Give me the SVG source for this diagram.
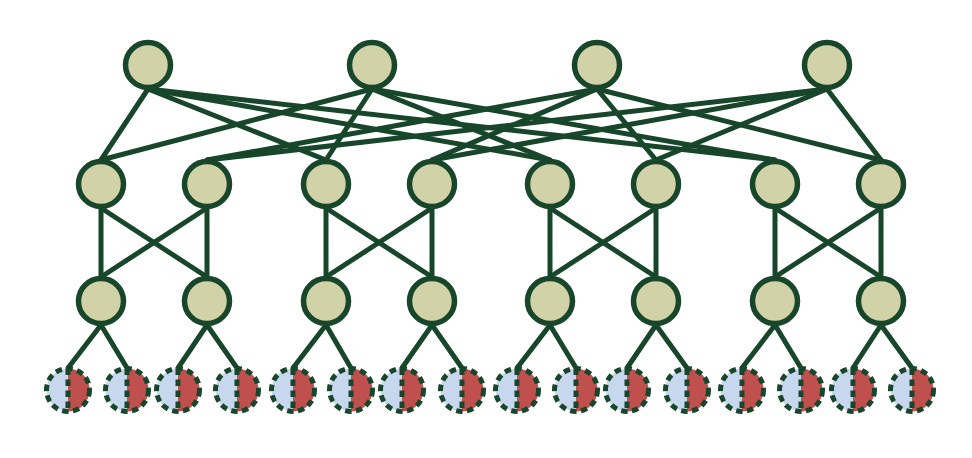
<svg xmlns="http://www.w3.org/2000/svg" width="972" height="458" viewBox="0 0 972 458">
<style>
.n{fill:#d2d2a9;stroke:#17462a;stroke-width:5.5}
.c line{stroke:#17462a;stroke-width:5;stroke-linecap:round}
.hb{fill:#c6d7ee}
.hr{fill:#c0504d}
.ho{fill:none;stroke:#17462a;stroke-width:5;stroke-dasharray:6.5 4.5}
</style>
<defs>
<g id="host">
<circle class="hb" cx="0" cy="0" r="21.5"/>
<path class="hr" d="M0,-21.5 A21.5,21.5 0 0 1 0,21.5 Z"/>
<circle class="ho" cx="0" cy="0" r="21.5"/>
<line class="ho" x1="0" y1="-21.5" x2="0" y2="21.5"/>
</g>
</defs>
<rect width="972" height="458" fill="#fff"/>
<g class="c" id="connectors">
<line x1="148" y1="89" x2="101" y2="160"/>
<line x1="148" y1="89" x2="326" y2="160"/>
<line x1="148" y1="89" x2="550" y2="160"/>
<line x1="148" y1="89" x2="775" y2="160"/>
<line x1="372" y1="89" x2="101" y2="160"/>
<line x1="372" y1="89" x2="326" y2="160"/>
<line x1="372" y1="89" x2="550" y2="160"/>
<line x1="372" y1="89" x2="775" y2="160"/>
<line x1="597" y1="89" x2="207" y2="160"/>
<line x1="597" y1="89" x2="432" y2="160"/>
<line x1="597" y1="89" x2="656" y2="160"/>
<line x1="597" y1="89" x2="881" y2="160"/>
<line x1="827" y1="89" x2="207" y2="160"/>
<line x1="827" y1="89" x2="432" y2="160"/>
<line x1="827" y1="89" x2="656" y2="160"/>
<line x1="827" y1="89" x2="881" y2="160"/>
<line x1="101" y1="208" x2="101" y2="277"/>
<line x1="101" y1="208" x2="207" y2="277"/>
<line x1="207" y1="208" x2="101" y2="277"/>
<line x1="207" y1="208" x2="207" y2="277"/>
<line x1="326" y1="208" x2="326" y2="277"/>
<line x1="326" y1="208" x2="432" y2="277"/>
<line x1="432" y1="208" x2="326" y2="277"/>
<line x1="432" y1="208" x2="432" y2="277"/>
<line x1="550" y1="208" x2="550" y2="277"/>
<line x1="550" y1="208" x2="656" y2="277"/>
<line x1="656" y1="208" x2="550" y2="277"/>
<line x1="656" y1="208" x2="656" y2="277"/>
<line x1="775" y1="208" x2="775" y2="277"/>
<line x1="775" y1="208" x2="881" y2="277"/>
<line x1="881" y1="208" x2="775" y2="277"/>
<line x1="881" y1="208" x2="881" y2="277"/>
<line x1="101" y1="325" x2="68" y2="368"/>
<line x1="101" y1="325" x2="127" y2="368"/>
<line x1="207" y1="325" x2="178" y2="368"/>
<line x1="207" y1="325" x2="237" y2="368"/>
<line x1="326" y1="325" x2="293" y2="368"/>
<line x1="326" y1="325" x2="351" y2="368"/>
<line x1="432" y1="325" x2="402" y2="368"/>
<line x1="432" y1="325" x2="462" y2="368"/>
<line x1="550" y1="325" x2="517" y2="368"/>
<line x1="550" y1="325" x2="576" y2="368"/>
<line x1="656" y1="325" x2="627" y2="368"/>
<line x1="656" y1="325" x2="687" y2="368"/>
<line x1="775" y1="325" x2="742" y2="368"/>
<line x1="775" y1="325" x2="801" y2="368"/>
<line x1="881" y1="325" x2="853" y2="368"/>
<line x1="881" y1="325" x2="912" y2="368"/>
</g>
<g id="core1"><circle class="n" cx="148" cy="65" r="22.5"/></g>
<g id="core2"><circle class="n" cx="372" cy="65" r="22.5"/></g>
<g id="core3"><circle class="n" cx="597" cy="65" r="22.5"/></g>
<g id="core4"><circle class="n" cx="827" cy="65" r="22.5"/></g>
<g id="agg1"><circle class="n" cx="101" cy="184" r="22.5"/></g>
<g id="agg2"><circle class="n" cx="207" cy="184" r="22.5"/></g>
<g id="agg3"><circle class="n" cx="326" cy="184" r="22.5"/></g>
<g id="agg4"><circle class="n" cx="432" cy="184" r="22.5"/></g>
<g id="agg5"><circle class="n" cx="550" cy="184" r="22.5"/></g>
<g id="agg6"><circle class="n" cx="656" cy="184" r="22.5"/></g>
<g id="agg7"><circle class="n" cx="775" cy="184" r="22.5"/></g>
<g id="agg8"><circle class="n" cx="881" cy="184" r="22.5"/></g>
<g id="edge1"><circle class="n" cx="101" cy="301" r="22.5"/></g>
<g id="edge2"><circle class="n" cx="207" cy="301" r="22.5"/></g>
<g id="edge3"><circle class="n" cx="326" cy="301" r="22.5"/></g>
<g id="edge4"><circle class="n" cx="432" cy="301" r="22.5"/></g>
<g id="edge5"><circle class="n" cx="550" cy="301" r="22.5"/></g>
<g id="edge6"><circle class="n" cx="656" cy="301" r="22.5"/></g>
<g id="edge7"><circle class="n" cx="775" cy="301" r="22.5"/></g>
<g id="edge8"><circle class="n" cx="881" cy="301" r="22.5"/></g>
<g id="host1"><use href="#host" x="68" y="390"/></g>
<g id="host2"><use href="#host" x="127" y="390"/></g>
<g id="host3"><use href="#host" x="178" y="390"/></g>
<g id="host4"><use href="#host" x="237" y="390"/></g>
<g id="host5"><use href="#host" x="293" y="390"/></g>
<g id="host6"><use href="#host" x="351" y="390"/></g>
<g id="host7"><use href="#host" x="402" y="390"/></g>
<g id="host8"><use href="#host" x="462" y="390"/></g>
<g id="host9"><use href="#host" x="517" y="390"/></g>
<g id="host10"><use href="#host" x="576" y="390"/></g>
<g id="host11"><use href="#host" x="627" y="390"/></g>
<g id="host12"><use href="#host" x="687" y="390"/></g>
<g id="host13"><use href="#host" x="742" y="390"/></g>
<g id="host14"><use href="#host" x="801" y="390"/></g>
<g id="host15"><use href="#host" x="853" y="390"/></g>
<g id="host16"><use href="#host" x="912" y="390"/></g>
</svg>
